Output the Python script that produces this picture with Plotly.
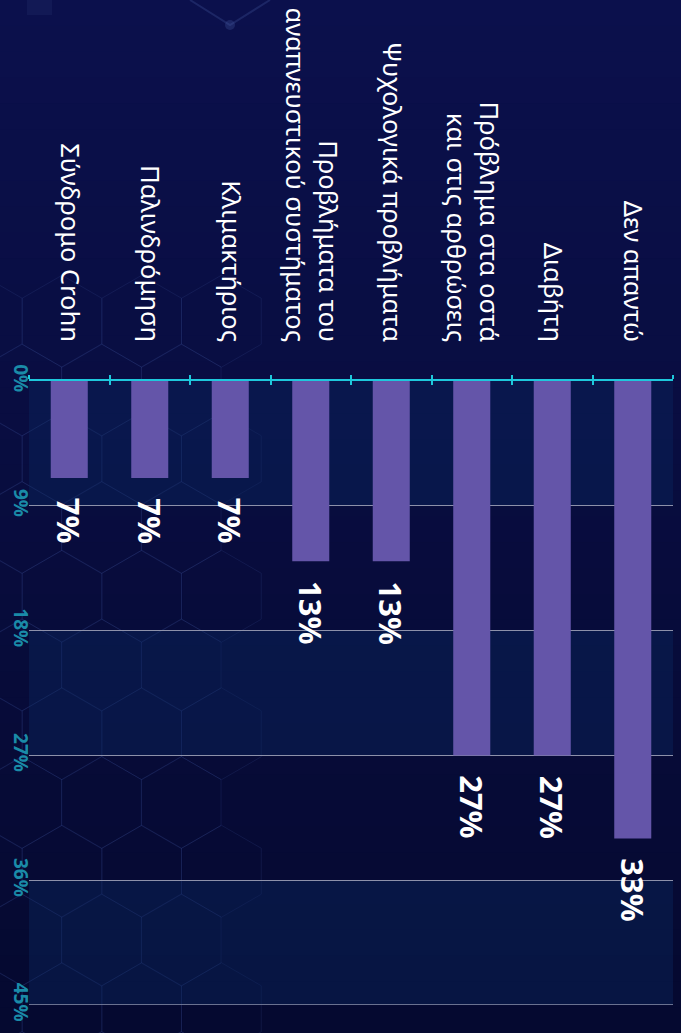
import plotly.graph_objects as go

categories = [
    "Σύνδρομο Crohn",
    "Παλινδρόμηση",
    "Κλιμακτήριος",
    "Προβλήματα του<br>αναπνευστικού συστήματος",
    "Ψυχολογικά προβλήματα",
    "Πρόβλημα στα οστά<br>και στις αρθρώσεις",
    "Διαβήτη",
    "Δεν απαντώ",
]
values = [7, 7, 7, 13, 13, 27, 27, 33]
value_labels = ["7%", "7%", "7%", "13%", "13%", "27%", "27%", "33%"]
y_ticks = [0, 9, 18, 27, 36, 45]
y_tick_labels = ["0%", "9%", "18%", "27%", "36%", "45%"]

W, H = 681, 1033
ML, MR, MT, MB = 29, 8, 381, 28
PW, PH = W - ML - MR, H - MT - MB


def px(x):
    return (x - ML) / PW


def py(y):
    return (H - MB - y) / PH


shapes = []
# background vertical gradient
n = 40
c0 = (11, 16, 76)
c1 = (5, 9, 48)
for i in range(n):
    t = i / (n - 1)
    col = tuple(int(round(c0[k] + (c1[k] - c0[k]) * t)) for k in range(3))
    shapes.append(dict(type="rect", xref="paper", yref="paper", layer="below",
                       x0=px(0), x1=px(W), y0=py(H * i / n), y1=py(H * (i + 1) / n + 1),
                       fillcolor="rgb(%d,%d,%d)" % col, line=dict(width=0)))

# hexagon decoration
s = 46.0
w = 79.7
for k in range(-5, 7):
    cy = 665 + 68.75 * k
    if k % 2 == 0:
        xs = [21.8, 101.5, 181.2]
    else:
        xs = [-17.7, 62, 141.7, 221.4]
    for cx in xs:
        pts = [(cx, cy - s), (cx + w / 2, cy - s / 2), (cx + w / 2, cy + s / 2),
               (cx, cy + s), (cx - w / 2, cy + s / 2), (cx - w / 2, cy - s / 2)]
        path = "M " + " L ".join("%.5f,%.5f" % (px(a), py(b)) for a, b in pts) + " Z"
        shapes.append(dict(type="path", xref="paper", yref="paper", layer="below",
                           path=path, line=dict(color="rgba(60,80,150,0.2)", width=1)))

# top decoration
path = "M %.5f,%.5f L %.5f,%.5f L %.5f,%.5f" % (px(190), py(0), px(230), py(25), px(270), py(0))
shapes.append(dict(type="path", xref="paper", yref="paper", layer="below", path=path,
                   line=dict(color="rgba(70,90,160,0.3)", width=2)))
shapes.append(dict(type="circle", xref="paper", yref="paper", layer="below",
                   x0=px(225), x1=px(235), y0=py(20), y1=py(30),
                   fillcolor="rgba(70,90,160,0.3)", line=dict(width=0)))
shapes.append(dict(type="rect", xref="paper", yref="paper", layer="below",
                   x0=px(27), x1=px(52), y0=py(0), y1=py(15),
                   fillcolor="rgba(70,90,160,0.12)", line=dict(width=0)))

# alternating bands in plot area
for a, b in [(0, 9), (18, 27), (36, 45)]:
    shapes.append(dict(type="rect", xref="paper", yref="y", layer="below",
                       x0=0, x1=1, y0=a, y1=b,
                       fillcolor="rgba(10,40,95,0.4)", line=dict(width=0)))

# last gridline at the bottom edge
shapes.append(dict(type="line", xref="paper", yref="y", layer="below",
                   x0=0, x1=1, y0=y_ticks[-1], y1=y_ticks[-1],
                   line=dict(color="#8d91aa", width=1.5)))

fig = go.Figure()
fig.add_trace(go.Bar(
    x=categories, y=values, marker=dict(color="#6455a9", line=dict(width=0)),
    width=0.46, hoverinfo="skip", showlegend=False,
))
fig.add_trace(go.Bar(
    x=categories, y=values, xaxis="x2", marker=dict(color="rgba(0,0,0,0)", line=dict(width=0)),
    width=0.46, hoverinfo="skip", showlegend=False,
))

annotations = []
for c, v, lab in zip(categories, values, value_labels):
    annotations.append(dict(x=c, y=v, xref="x", yref="y", text=lab, showarrow=False,
                            textangle=90, xanchor="center", yanchor="top", yshift=-18,
                            font=dict(family="Noto Sans", size=31, color="white", weight="bold")))

fig.update_layout(
    width=W, height=H,
    margin=dict(l=ML, r=MR, t=MT, b=MB, pad=0, autoexpand=False),
    paper_bgcolor="#080e3e",
    plot_bgcolor="rgba(0,0,0,0)",
    shapes=shapes,
    annotations=annotations,
    bargap=0.54,
    font=dict(family="Noto Sans", color="white"),
    xaxis=dict(
        side="top", type="category", categoryorder="array", categoryarray=categories,
        range=[-0.5, 7.5], showline=True, linecolor="#1ec8dc", linewidth=2,
        ticks="outside", ticklen=4, tickwidth=1.5, tickcolor="#1ec8dc", tickson="boundaries",
        tickangle=90, tickfont=dict(family="Noto Sans", size=25.5, color="white"),
        ticklabelstandoff=28, showgrid=False, zeroline=False, automargin=False,
    ),
    xaxis2=dict(
        overlaying="x", anchor="y", side="top", type="category", categoryorder="array",
        categoryarray=categories, range=[-0.5, 7.5], showline=False,
        ticks="inside", ticklen=4, tickwidth=1.5, tickcolor="#1ec8dc", tickson="boundaries",
        showticklabels=False, showgrid=False, zeroline=False, automargin=False,
    ),
    yaxis=dict(
        range=[45, 0], tickvals=y_ticks, ticktext=y_tick_labels, tickangle=90,
        tickfont=dict(family="Noto Sans", size=19, color="#1a8ba8", weight="bold"),
        showgrid=True, gridcolor="#8d91aa", gridwidth=1, zeroline=False, showline=False,
        ticks="", ticklabelstandoff=-5, automargin=False,
    ),
)

fig.write_html("out.html", post_script="document.body.style.margin='0';",
               config={"displayModeBar": False})
